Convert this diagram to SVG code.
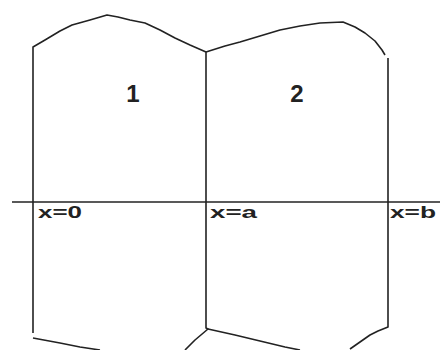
<svg xmlns="http://www.w3.org/2000/svg" width="440" height="350" viewBox="0 0 440 350">
<style>
.ln{fill:none;stroke:#222;stroke-width:1.6;stroke-linejoin:round}
.num{font-family:"Liberation Sans",Arial,sans-serif;font-weight:bold;font-size:24px;fill:#222;text-anchor:middle}
.lab{font-family:"Liberation Sans",Arial,sans-serif;font-weight:bold;font-size:17px;fill:#222}
</style>
<rect width="440" height="350" fill="#fff"/>
<g id="region1">
<path class="ln" d="M33,333 L33,47 L45,40 L60,31 L72,25 L90,20 L107,15 L118,17 L130,20 L145,23 L160,30 L175,38 L190,45 L206,52"/>
<path class="ln" d="M33,338 L60,343 L80,347 L100,350"/>
<text class="num" x="133" y="102">1</text>
</g>
<g id="region2">
<path class="ln" d="M206,52 L225,46 L240,42 L260,36 L280,30 L300,26 L320,23 L343,22 L355,27 L365,33 L375,41 L382,50 L385,55"/>
<path class="ln" d="M388,58 L388,327 L378,331 L370,335 L360,342 L350,349"/>
<path class="ln" d="M208,329 L235,335 L260,341 L285,347 L300,350"/>
<text class="num" x="297" y="102">2</text>
</g>
<g id="connectors">
<path class="ln" d="M206,52 L206,328 L208,329 L195,340 L185,350"/>
<path class="ln" d="M12,202 L440,202"/>
</g>
<g id="labels">
<text class="lab" x="38" y="218" textLength="44" lengthAdjust="spacingAndGlyphs">x=0</text>
<text class="lab" x="210" y="218" textLength="47" lengthAdjust="spacingAndGlyphs">x=a</text>
<text class="lab" x="390" y="218" textLength="46" lengthAdjust="spacingAndGlyphs">x=b</text>
</g>
</svg>
